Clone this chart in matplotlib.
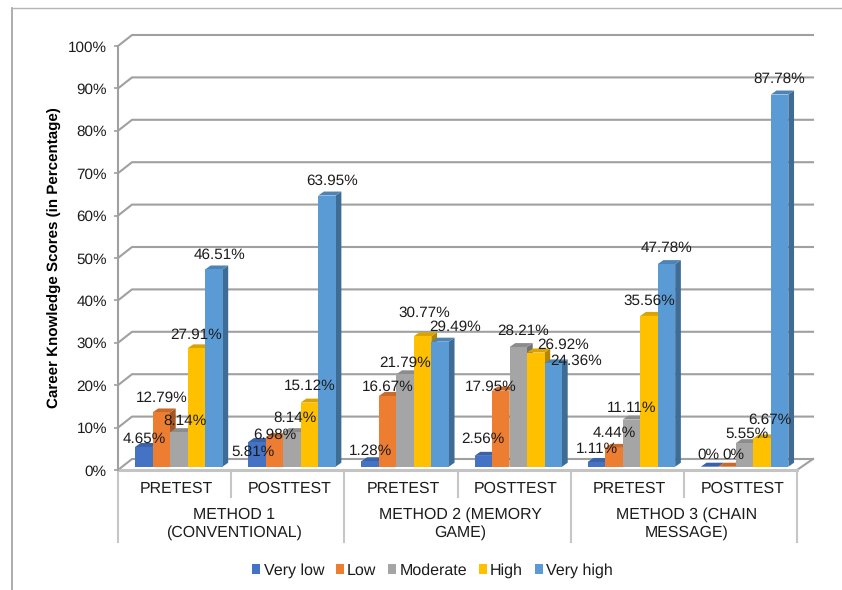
import matplotlib
matplotlib.use("Agg")
import matplotlib.pyplot as plt
from matplotlib.lines import Line2D
from matplotlib.patches import Patch

plt.rcParams['font.family'] = ['Liberation Sans', 'DejaVu Sans']
plt.rcParams['text.hinting'] = 'none'

# ---- data ----
sessions = ["PRETEST", "POSTTEST", "PRETEST", "POSTTEST", "PRETEST", "POSTTEST"]
methods = ["METHOD 1\n(CONVENTIONAL)", "METHOD 2 (MEMORY\nGAME)", "METHOD 3 (CHAIN\nMESSAGE)"]
levels = ["Very low", "Low", "Moderate", "High", "Very high"]
very_low = [4.65, 5.81, 1.28, 2.56, 1.11, 0]
low = [12.79, 6.98, 16.67, 17.95, 4.44, 0]
moderate = [8.14, 8.14, 21.79, 28.21, 11.11, 5.55]
high = [27.91, 15.12, 30.77, 26.92, 35.56, 6.67]
very_high = [46.51, 63.95, 29.49, 24.36, 47.78, 87.78]
series = [very_low, low, moderate, high, very_high]

# ---- style ----
front = ["#4472C4", "#ED7D31", "#A5A5A5", "#FFC000", "#5B9BD5"]
top = ["#3A62A8", "#C96A2A", "#8C8C8C", "#D9A300", "#4D84B5"]
side = ["#2F5090", "#A55722", "#737373", "#B38600", "#3F6C95"]
# label nudges in pixels (dx, dy up) per series, per session
nudges = [
    [(1, 8), (-4, -10), (0, 10), (0, 17), (0, 13), (-1, 12)],
    [(0, 14.5), (0, 2), (0, 9), (-10, 4), (0, 15), (6, 12)],
    [(6, 11), (3, 14), (0, 11.5), (4.6, 16), (0, 11.6), (2, 9)],
    [(0, 13.5), (0, 16.5), (1.5, 23.5), (27, 7.5), (0, 15), (8, 18)],
    [(6, 14.5), (5, 14.5), (15, 14.5), (23, 2), (0, 16), (0, 15.5)],
]

W, H = 842, 590
L, R, B, T = 118, 797, 470, 46
PX = 6 / (R - L)
PY = 100 / (B - T)
grid_c = "#A0A0A0"
sep_c = "#C6C6C6"
txt_c = "#1C1C1C"
fs = 11

fig = plt.figure(figsize=(W / 100, H / 100), dpi=100, facecolor="white")
ax = fig.add_axes([L / W, (H - B) / H, (R - L) / W, (B - T) / H])
ax.set_xlim(0, 6)
ax.set_ylim(0, 100)
ax.patch.set_visible(False)
for s in ax.spines.values():
    s.set_visible(False)

# outer frame of the picture
fig.add_artist(Line2D([11.5 / W, 11.5 / W], [0, (H - 8) / H], color="#A0A0A0", lw=1.2))
fig.add_artist(Line2D([11.5 / W, 1], [(H - 8) / H, (H - 8) / H], color="#B4B4B4", lw=1.0))

# back wall
wall_dx, wall_dy = 14 * PX, 11 * PY
end_dx = 16 * PX
for v in range(0, 101, 10):
    ax.plot([0, wall_dx, 6 + end_dx], [v, v + wall_dy, v + wall_dy],
            color=grid_c, lw=1.5, clip_on=False, zorder=1, solid_joinstyle="round")
# floor
ax.plot([6, 6 + end_dx], [0, wall_dy], color=grid_c, lw=1.5, clip_on=False, zorder=1)
ax.plot([0, 6], [0, 0], color="#C4C4C4", lw=2.2, clip_on=False, zorder=1.5)
ax.plot([0, 0], [0, 100], color=grid_c, lw=1.5, clip_on=False, zorder=1.6)

# bars
bar_w = 17.5 * PX
start = 17 * PX
lift = 3.3 * PY
dx, dy = 5.7 * PX, 4 * PY
z = 3
for g in range(6):
    for i, vals in enumerate(series):
        v = vals[g]
        x0 = g + start + i * bar_w
        x1 = x0 + bar_w
        y1 = lift + v
        if v > 0:
            ax.bar(x0 + bar_w / 2, v, bar_w, bottom=lift, color=front[i], zorder=z + 0.2,
                   clip_on=False, linewidth=0)
            ax.fill([x1, x1 + dx, x1 + dx, x1], [lift, lift + dy, y1 + dy, y1],
                    color=side[i], lw=0, zorder=z + 0.1, clip_on=False)
        ax.fill([x0, x1, x1 + dx, x0 + dx], [y1, y1, y1 + dy, y1 + dy],
                color=top[i], lw=0, zorder=z + 0.1, clip_on=False)
        z += 1

# value labels
for g in range(6):
    for i, vals in enumerate(series):
        v = vals[g]
        nx, ny = nudges[i][g]
        ax.annotate(f"{v:g}%", xy=(g + start + (i + 0.5) * bar_w, lift + v),
                    xytext=(nx * 0.72, ny * 0.72), textcoords="offset points",
                    ha="center", va="center", fontsize=fs, color=txt_c, zorder=200,
                    annotation_clip=False)

# axes ticks
ax.set_yticks(range(0, 101, 10), [f"{v}%" for v in range(0, 101, 10)])
ax.tick_params(axis="y", length=3, width=1.2, color=grid_c, labelsize=fs, pad=5, labelcolor=txt_c)
ax.set_xticks([g + 0.5 + 2 * PX for g in range(6)], sessions)
ax.tick_params(axis="x", length=0, labelsize=11.4, pad=8, labelcolor=txt_c)
ax.set_ylabel("Career Knowledge Scores (in Percentage)", fontsize=10.9, fontweight="bold",
              color="black", labelpad=4)

# category separators
for k in range(7):
    deep = k % 2 == 0
    ax.plot([k, k], [0, -(72 if deep else 27) * PY], color=sep_c, lw=1.5,
            clip_on=False, zorder=1)
for m, name in enumerate(methods):
    ax.text(2 * m + 1 + 2.5 * PX, -53.5 * PY, name, ha="center", va="center", fontsize=11.4,
            color=txt_c, linespacing=1.2, clip_on=False)

# legend
handles = [Patch(facecolor=c, edgecolor="none", label=l) for c, l in zip(front, levels)]
fig.legend(handles=handles, loc="center", bbox_to_anchor=(432.5 / W, (H - 570.5) / H), ncol=5,
           frameon=False, fontsize=11.5, handlelength=0.52, handleheight=0.52,
           handletextpad=0.2, columnspacing=0.72, labelcolor=txt_c, borderpad=0)

fig.savefig("out.png", dpi=100, facecolor="white")
